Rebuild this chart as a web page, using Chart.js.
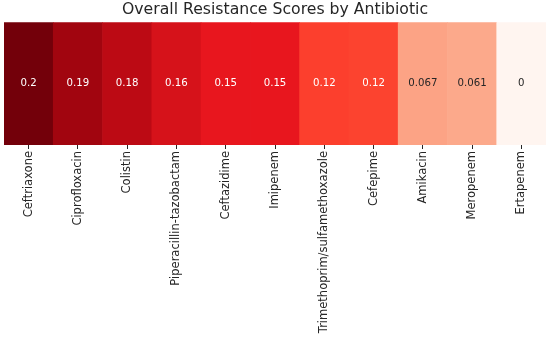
<!DOCTYPE html>
<html>
<head>
<meta charset="utf-8">
<script src="https://cdn.jsdelivr.net/npm/chart.js@4.4.1/dist/chart.umd.min.js"></script>
<style>
  html, body { margin: 0; padding: 0; background: #fff; }
  #wrap { width: 550px; height: 342px; }
</style>
</head>
<body>
<div id="wrap"><canvas id="heat"></canvas></div>
<script>
// data
const antibiotics = ["Ceftriaxone", "Ciprofloxacin", "Colistin", "Piperacillin-tazobactam",
    "Ceftazidime", "Imipenem", "Trimethoprim/sulfamethoxazole", "Cefepime",
    "Amikacin", "Meropenem", "Ertapenem"];
const scores = [0.2, 0.19, 0.18, 0.16, 0.15, 0.15, 0.12, 0.12, 0.067, 0.061, 0];
// colours (Reds map)
const cellColors = ["#73000a", "#a1050f", "#bc0a14", "#d6121a", "#e8161e", "#e8161e",
    "#fc3f2d", "#fc432f", "#fca385", "#fca98b", "#fff5f0"];

const FONT = "'DejaVu Sans', sans-serif";
const INK = "#262626";

// every cell fills the single heatmap row
const rowSpan = scores.map(() => [0, 1]);

// draws the score inside each cell
const cellText = {
    id: "cellText",
    afterDatasetsDraw(chart) {
        const ctx = chart.ctx;
        const meta = chart.getDatasetMeta(0);
        ctx.save();
        ctx.font = "10.2px " + FONT;
        ctx.textAlign = "center";
        ctx.textBaseline = "middle";
        meta.data.forEach((bar, i) => {
            const v = scores[i];
            ctx.fillStyle = v > 0.1 ? "#ffffff" : INK;
            const y = (chart.chartArea.top + chart.chartArea.bottom) / 2;
            ctx.fillText(String(v), bar.x, y);
        });
        ctx.restore();
    }
};

new Chart(document.getElementById("heat"), {
    type: "bar",
    data: {
        labels: antibiotics,
        datasets: [{
            data: rowSpan,
            backgroundColor: cellColors,
            borderWidth: 0,
            barPercentage: 1,
            categoryPercentage: 1
        }]
    },
    options: {
        responsive: true,
        maintainAspectRatio: false,
        animation: false,
        layout: { padding: { left: 4, right: 4, top: 0, bottom: 0 } },
        plugins: {
            legend: { display: false },
            tooltip: { enabled: false },
            title: {
                display: true,
                text: "Overall Resistance Scores by Antibiotic",
                color: INK,
                font: { family: FONT, size: 15.7, weight: "normal" },
                padding: { top: 1, bottom: 2.5 }
            }
        },
        scales: {
            x: {
                offset: true,
                border: { display: false },
                grid: {
                    offset: false,
                    drawOnChartArea: false,
                    drawTicks: true,
                    tickLength: 4,
                    tickColor: INK,
                    tickWidth: 1
                },
                ticks: {
                    color: INK,
                    font: { family: FONT, size: 11.5 },
                    minRotation: 90,
                    maxRotation: 90,
                    autoSkip: false,
                    padding: 2
                },
                // the long labels need more than half the canvas height
                afterFit(scale) {
                    scale.height = 197;
                }
            },
            y: {
                display: false,
                min: 0,
                max: 1
            }
        }
    },
    plugins: [cellText]
});
</script>
</body>
</html>
